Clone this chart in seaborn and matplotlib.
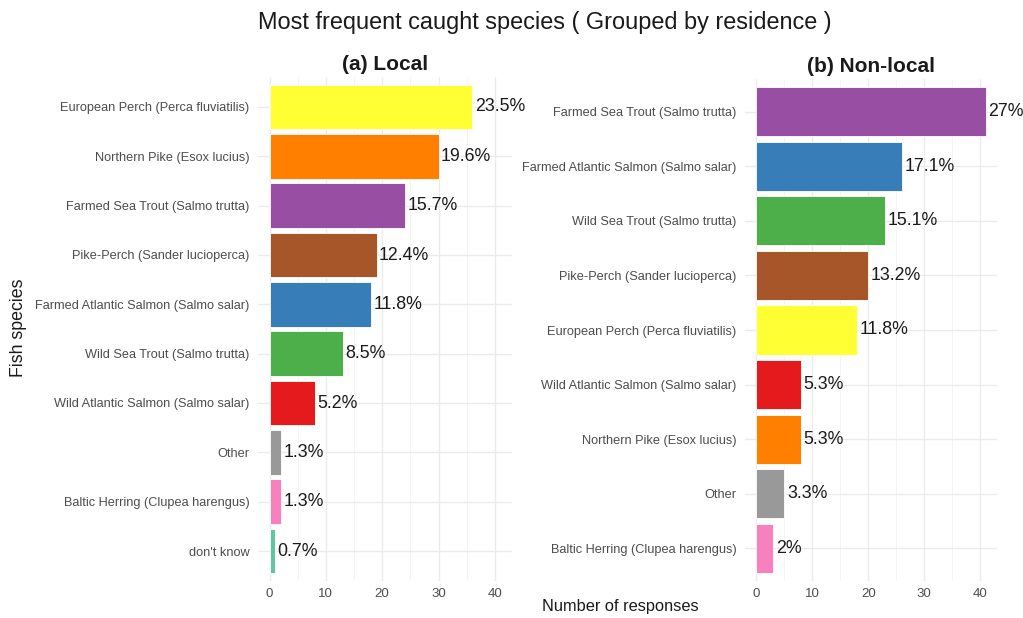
import matplotlib
matplotlib.use("Agg")
import matplotlib.pyplot as plt
import seaborn as sns
import pandas as pd
from matplotlib.ticker import MultipleLocator

sns.set_theme(style="whitegrid")
plt.rcParams['font.family'] = ['Liberation Sans', 'DejaVu Sans']

# ---- data ----
local_species = ["European Perch (Perca fluviatilis)", "Northern Pike (Esox lucius)",
                 "Farmed Sea Trout (Salmo trutta)", "Pike-Perch (Sander lucioperca)",
                 "Farmed Atlantic Salmon (Salmo salar)", "Wild Sea Trout (Salmo trutta)",
                 "Wild Atlantic Salmon (Salmo salar)", "Other",
                 "Baltic Herring (Clupea harengus)", "don't know"]
local_counts = [36, 30, 24, 19, 18, 13, 8, 2, 2, 1]
local_pct = ["23.5%", "19.6%", "15.7%", "12.4%", "11.8%", "8.5%", "5.2%", "1.3%", "1.3%", "0.7%"]

nonlocal_species = ["Farmed Sea Trout (Salmo trutta)", "Farmed Atlantic Salmon (Salmo salar)",
                    "Wild Sea Trout (Salmo trutta)", "Pike-Perch (Sander lucioperca)",
                    "European Perch (Perca fluviatilis)", "Wild Atlantic Salmon (Salmo salar)",
                    "Northern Pike (Esox lucius)", "Other", "Baltic Herring (Clupea harengus)"]
nonlocal_counts = [41, 26, 23, 20, 18, 8, 8, 5, 3]
nonlocal_pct = ["27%", "17.1%", "15.1%", "13.2%", "11.8%", "5.3%", "5.3%", "3.3%", "2%"]

colors = {
    "Wild Atlantic Salmon (Salmo salar)": "#E41A1C",
    "Farmed Atlantic Salmon (Salmo salar)": "#377EB8",
    "Wild Sea Trout (Salmo trutta)": "#4DAF4A",
    "Farmed Sea Trout (Salmo trutta)": "#984EA3",
    "Northern Pike (Esox lucius)": "#FF7F00",
    "European Perch (Perca fluviatilis)": "#FFFF33",
    "Pike-Perch (Sander lucioperca)": "#A65628",
    "Baltic Herring (Clupea harengus)": "#F781BF",
    "Other": "#999999",
    "don't know": "#66C2A5",
}

W, H = 1023, 618
fig = plt.figure(figsize=(W / 100, H / 100), dpi=100)

def ax_at(l, t, r, b):
    return fig.add_axes([l / W, 1 - b / H, (r - l) / W, (b - t) / H])

ax1 = ax_at(258, 77.4, 512, 580.6)
ax2 = ax_at(745, 79, 997, 581)

def draw(ax, species, counts, pct, title):
    df = pd.DataFrame({"species": species, "count": counts})
    sns.barplot(data=df, y="species", x="count", hue="species", palette=colors,
                order=species, hue_order=species, dodge=False, legend=False,
                width=0.9, edgecolor="white", linewidth=0.6, saturation=1, ax=ax)
    for i, (c, p) in enumerate(zip(counts, pct)):
        ax.text(c + 0.45, i, p, va="center", ha="left", fontsize=12.8, color="#1a1a1a")
    ax.set_xlim(-2.05, 43.05)
    ax.set_ylim(len(species) - 0.4, -0.6)
    ax.xaxis.set_major_locator(MultipleLocator(10))
    ax.xaxis.set_minor_locator(MultipleLocator(5))
    ax.grid(True, which="major", axis="both", color="#EBEBEB", linewidth=1.0)
    ax.grid(True, which="minor", axis="x", color="#F3F3F3", linewidth=0.6)
    ax.set_axisbelow(True)
    for s in ax.spines.values():
        s.set_visible(False)
    ax.set_facecolor("white")
    ax.tick_params(axis="y", labelsize=9.2, labelcolor="#4D4D4D", length=0, pad=6)
    ax.tick_params(axis="x", labelsize=9.5, labelcolor="#4D4D4D", length=0, pad=5)
    ax.tick_params(which="minor", length=0)
    ax.set_xlabel("")
    ax.set_ylabel("")
    ax.set_title(title, fontsize=15, fontweight="bold", pad=5, color="#1a1a1a")

draw(ax1, local_species, local_counts, local_pct, "(a) Local")
draw(ax2, nonlocal_species, nonlocal_counts, nonlocal_pct, "(b) Non-local")

fig.text(545 / W, 1 - 23 / H, "Most frequent caught species ( Grouped by residence )",
         ha="center", va="center", fontsize=16.9, color="#1a1a1a")
fig.text(19 / W, 1 - 328 / H, "Fish species", rotation=90, ha="center", va="center",
         fontsize=12.8, color="#1a1a1a")
fig.text(620 / W, 1 - 607 / H, "Number of responses", ha="center", va="center",
         fontsize=11.8, color="#1a1a1a")

fig.savefig("out.png", dpi=100, facecolor="white")
